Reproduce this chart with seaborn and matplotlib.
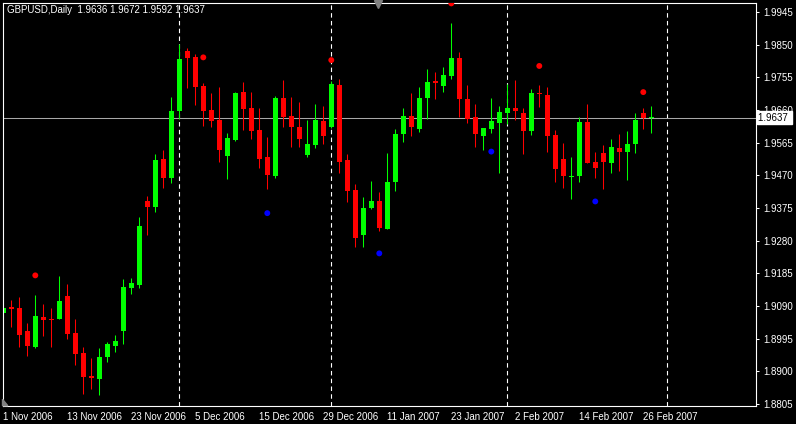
import numpy as np
import pandas as pd
import matplotlib
matplotlib.use("Agg")
import matplotlib.pyplot as plt
import matplotlib.transforms as mtransforms
import seaborn as sns

# GBPUSD daily bars, 1 Nov 2006 .. 27 Feb 2007 (one entry per bar)
opens = [1.9069, 1.9088, 1.9083, 1.9017, 1.8970, 1.9057, 1.9053, 1.9053, 1.9119, 1.9012,
         1.8954, 1.8887, 1.8877, 1.8943, 1.8974, 1.9017, 1.9143, 1.9151, 1.9395, 1.9379,
         1.9517, 1.9461, 1.9658, 1.9832, 1.9814, 1.9730, 1.9660, 1.9631, 1.9526, 1.9573,
         1.9713, 1.9666, 1.9602, 1.9523, 1.9468, 1.9694, 1.9643, 1.9611, 1.9529, 1.9558,
         1.9628, 1.9611, 1.9733, 1.9515, 1.9427, 1.9297, 1.9375, 1.9395, 1.9314, 1.9452,
         1.9590, 1.9643, 1.9605, 1.9696, 1.9744, 1.9730, 1.9760, 1.9811, 1.9693, 1.9640,
         1.9585, 1.9606, 1.9623, 1.9650, 1.9666, 1.9650, 1.9600, 1.9710, 1.9704, 1.9587,
         1.9518, 1.9465, 1.9469, 1.9625, 1.9509, 1.9534, 1.9507, 1.9550, 1.9537, 1.9561,
         1.9650, 1.9636]
highs = [1.9137, 1.9108, 1.9117, 1.9040, 1.9122, 1.9096, 1.9084, 1.9178, 1.9154, 1.9052,
         1.8972, 1.8938, 1.8969, 1.8986, 1.9006, 1.9169, 1.9171, 1.9350, 1.9411, 1.9532,
         1.9544, 1.9697, 1.9852, 1.9839, 1.9822, 1.9739, 1.9710, 1.9728, 1.9594, 1.9713,
         1.9742, 1.9713, 1.9665, 1.9581, 1.9701, 1.9747, 1.9699, 1.9684, 1.9631, 1.9677,
         1.9672, 1.9744, 1.9750, 1.9532, 1.9445, 1.9406, 1.9454, 1.9422, 1.9536, 1.9605,
         1.9667, 1.9709, 1.9726, 1.9778, 1.9771, 1.9786, 1.9914, 1.9830, 1.9733, 1.9677,
         1.9609, 1.9696, 1.9672, 1.9736, 1.9747, 1.9665, 1.9720, 1.9733, 1.9728, 1.9602,
         1.9563, 1.9524, 1.9641, 1.9677, 1.9537, 1.9558, 1.9577, 1.9590, 1.9600, 1.9650,
         1.9665, 1.9672]
lows = [1.9049, 1.9030, 1.8972, 1.8945, 1.8967, 1.9003, 1.8970, 1.9051, 1.8994, 1.8919,
        1.8834, 1.8848, 1.8831, 1.8927, 1.8957, 1.8980, 1.9125, 1.9142, 1.9297, 1.9364,
        1.9432, 1.9447, 1.9633, 1.9723, 1.9675, 1.9614, 1.9610, 1.9510, 1.9459, 1.9571,
        1.9602, 1.9576, 1.9492, 1.9429, 1.9461, 1.9611, 1.9553, 1.9553, 1.9524, 1.9550,
        1.9561, 1.9609, 1.9476, 1.9393, 1.9261, 1.9261, 1.9371, 1.9309, 1.9313, 1.9425,
        1.9568, 1.9585, 1.9595, 1.9633, 1.9693, 1.9713, 1.9749, 1.9639, 1.9623, 1.9553,
        1.9544, 1.9594, 1.9476, 1.9618, 1.9631, 1.9531, 1.9587, 1.9670, 1.9539, 1.9452,
        1.9434, 1.9400, 1.9452, 1.9507, 1.9461, 1.9429, 1.9478, 1.9483, 1.9456, 1.9534,
        1.9604, 1.9592]
closes = [1.9085, 1.9081, 1.9006, 1.8974, 1.9062, 1.9049, 1.9049, 1.9105, 1.9009, 1.8951,
          1.8883, 1.8881, 1.8943, 1.8978, 1.8989, 1.9146, 1.9158, 1.9323, 1.9379, 1.9515,
          1.9461, 1.9658, 1.9808, 1.9812, 1.9728, 1.9658, 1.9627, 1.9544, 1.9579, 1.9710,
          1.9663, 1.9599, 1.9518, 1.9471, 1.9694, 1.9639, 1.9610, 1.9576, 1.9561, 1.9631,
          1.9585, 1.9736, 1.9510, 1.9425, 1.9288, 1.9374, 1.9395, 1.9317, 1.9452, 1.9590,
          1.9643, 1.9611, 1.9695, 1.9741, 1.9738, 1.9762, 1.9811, 1.9693, 1.9634, 1.9590,
          1.9608, 1.9628, 1.9654, 1.9667, 1.9657, 1.9600, 1.9710, 1.9706, 1.9585, 1.9488,
          1.9469, 1.9469, 1.9626, 1.9507, 1.9492, 1.9510, 1.9552, 1.9537, 1.9561, 1.9631,
          1.9636, 1.9637]

# indicator dots (bar index, price)
up_bars = [4, 25, 41, 56, 67, 80]
up_vals = [1.9179, 1.9813, 1.9805, 1.9970, 1.9788, 1.9712]
dn_bars = [33, 47, 61, 74]
dn_vals = [1.9360, 1.9243, 1.9539, 1.9394]

date_ticks = [0, 8, 16, 24, 32, 40, 48, 56, 64, 72, 80]
date_labels = ["1 Nov 2006", "13 Nov 2006", "23 Nov 2006", "5 Dec 2006", "15 Dec 2006",
               "29 Dec 2006", "11 Jan 2007", "23 Jan 2007", "2 Feb 2007", "14 Feb 2007",
               "26 Feb 2007"]
month_starts = [22, 41, 63, 83]
price_ticks = [1.8805, 1.8900, 1.8995, 1.9090, 1.9185, 1.9280, 1.9375,
               1.9470, 1.9565, 1.9660, 1.9755, 1.9850, 1.9945]
last_price = 1.9637
title = "GBPUSD,Daily  1.9636 1.9672 1.9592 1.9637"

sns.set_style("dark")
plt.rcParams['font.family'] = ['Liberation Sans', 'DejaVu Sans']

BULL = "#00FF00"
BEAR = "#FF0000"

fig = plt.figure(figsize=(7.96, 4.24), dpi=100, facecolor="black")
ax = fig.add_axes([2.5 / 796, 1 - 405.7 / 424, 753.5 / 796, 403 / 424])
ax.set_facecolor("black")

o = np.array(opens)
h = np.array(highs)
l = np.array(lows)
c = np.array(closes)
x = np.arange(len(o))
colors = np.where(c >= o, BULL, BEAR)

# month separators
for m in month_starts:
    ax.axvline(m, color="white", lw=0.8, ls=(0, (4, 3)), zorder=1)

# last price line
ax.axhline(last_price, color="#A8A8A8", lw=0.75, zorder=1.5)

# candles: wicks then bodies
ax.vlines(x, l, h, colors=colors, lw=0.75, zorder=2)
body_lo = np.minimum(o, c)
body_h = np.maximum(np.abs(c - o), 0.0003)
ax.bar(x, body_h, bottom=body_lo, width=0.68, color=colors, linewidth=0, zorder=2.2)

dots = pd.DataFrame({
    "bar": up_bars + dn_bars,
    "price": up_vals + dn_vals,
    "side": ["up"] * len(up_bars) + ["down"] * len(dn_bars),
})
sns.scatterplot(data=dots, x="bar", y="price", hue="side",
                palette={"up": "#FF0000", "down": "#0000FF"},
                s=18, linewidth=0, legend=False, ax=ax, zorder=3)

ax.set_xlim(-0.1, 94.09)
ax.set_ylim(1.8800, 1.9972)
ax.set_xlabel("")
ax.set_ylabel("")
ax.grid(False)

ax.set_xticks(date_ticks)
ax.set_xticklabels(date_labels, ha="left")
ax.yaxis.tick_right()
ax.set_yticks(price_ticks)
ax.set_yticklabels([f"{p:.4f}" for p in price_ticks])
ax.tick_params(axis="x", colors="white", labelcolor="white", labelsize=7,
               length=3, width=0.75, pad=1.5, direction="out")
ax.tick_params(axis="y", colors="white", labelcolor="white", labelsize=7,
               length=2.5, width=0.75, pad=2.5, direction="out")
for sp in ax.spines.values():
    sp.set_color("white")
    sp.set_linewidth(0.8)
    sp.set_visible(True)

# current price label on the right scale
trans = mtransforms.blended_transform_factory(ax.transAxes, ax.transData)
ax.text(1.003, last_price, f"{last_price:.4f} ", transform=trans, color="black",
        fontsize=7, va="center", ha="left", clip_on=False, zorder=5,
        bbox=dict(boxstyle="square,pad=0.15", fc="white", ec="white"))

# chart shift markers
ax.plot([0.4977], [0.997], transform=ax.transAxes, marker="v", ms=6,
        color="#808080", mec="#808080", clip_on=False, zorder=6)
ax.fill([0.0, 0.007, 0.0], [0.0, 0.0, 0.016], transform=ax.transAxes,
        color="#808080", zorder=6, clip_on=False)

fig.text(6.5 / 796, 1 - 5 / 424, title, color="white", fontsize=7, va="top", ha="left")

fig.savefig("out.png", dpi=100, facecolor="black")
